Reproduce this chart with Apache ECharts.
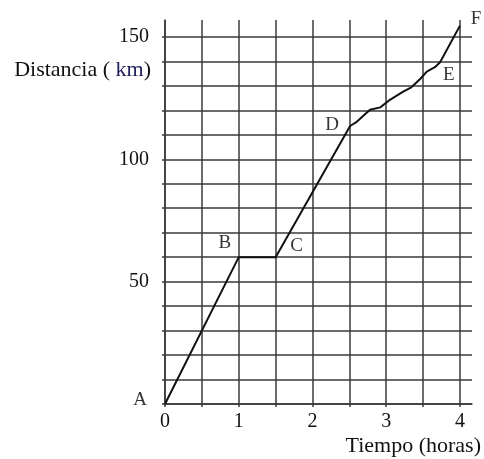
<!DOCTYPE html>
<html>
<head>
<meta charset="utf-8">
<title>Distancia - Tiempo</title>
<script src="https://cdn.jsdelivr.net/npm/echarts@6/dist/echarts.min.js"></script>
<style>
  html, body { margin: 0; padding: 0; background: #fff; }
  #chart { width: 484px; height: 459px; }
</style>
</head>
<body>
<div id="chart"></div>
<script>
  // recorrido (horas, km)
  var timeHours = [0, 1, 1.5, 2.51, 2.6, 2.78, 2.92, 3.05, 3.23, 3.34, 3.46, 3.55, 3.66, 3.73, 4.0]
  var distanceKm = [0, 60, 60, 113.6, 115.3, 120.2, 121.2, 124.3, 127.6, 129.4, 132.8, 135.8, 137.6, 139.6, 154.6]

  // puntos con letra
  var pointNames = ['A', 'B', 'C', 'D', 'E', 'F']
  var pointTimes = [0, 1, 1.5, 2.51, 3.66, 4.0]
  var pointDists = [0, 60, 60, 113.6, 137.6, 154.6]

  var xTickLabels = [0, 1, 2, 3, 4]
  var yTickLabels = [0, 50, 100, 150]

  // desplazamiento de cada letra respecto a su punto (px)
  var letterOffset = {
    A: [-25, -4],
    B: [-14, -14],
    C: [21, -11],
    D: [-18, -1],
    E: [14, 8],
    F: [16, -7]
  }

  var serif = '"Liberation Serif", "DejaVu Serif", serif'
  var ink = '#111'
  var gridLine = { color: '#3a3a3a', width: 1.5 }

  var lineData = timeHours.map(function (t, i) { return [t, distanceKm[i]] })
  var letterData = pointNames.map(function (n, i) {
    return {
      name: n,
      value: [pointTimes[i], pointDists[i]],
      label: { offset: letterOffset[n] }
    }
  })

  var chart = echarts.init(document.getElementById('chart'))
  chart.setOption({
    animation: false,
    grid: { left: 165, top: 20, right: 12, bottom: 55, containLabel: false },
    xAxis: {
      type: 'value',
      min: 0,
      max: 4.163,
      interval: 0.5,
      axisLine: { show: true, lineStyle: gridLine },
      axisTick: { show: true, length: 3, lineStyle: gridLine },
      splitLine: { show: true, showMaxLine: false, lineStyle: gridLine },
      axisLabel: {
        margin: 8,
        color: ink,
        fontFamily: serif,
        fontSize: 20,
        showMaxLabel: false,
        formatter: function (v) {
          return xTickLabels.indexOf(v) > -1 ? String(v) : ''
        }
      }
    },
    yAxis: {
      type: 'value',
      min: 0,
      max: 156.9,
      interval: 10,
      axisLine: { show: true, lineStyle: gridLine },
      axisTick: { show: true, length: 3, lineStyle: gridLine },
      splitLine: { show: true, showMaxLine: false, lineStyle: gridLine },
      axisLabel: {
        margin: 16,
        color: ink,
        fontFamily: serif,
        fontSize: 20,
        showMaxLabel: false,
        formatter: function (v) {
          return v > 0 && yTickLabels.indexOf(v) > -1 ? String(v) : ''
        }
      }
    },
    graphic: [
      {
        type: 'text',
        right: 484 - 151,
        top: 59,
        style: {
          text: '{a|Distancia ( }{k|km}{a|)}',
          rich: {
            a: { fontFamily: serif, fontSize: 22, fill: ink },
            k: { fontFamily: serif, fontSize: 22, fill: '#1e1e5a' }
          }
        }
      },
      {
        type: 'text',
        right: 3,
        top: 435,
        style: { text: 'Tiempo (horas)', fontFamily: serif, fontSize: 22, fill: ink }
      }
    ],
    series: [
      {
        type: 'line',
        data: lineData,
        symbol: 'none',
        lineStyle: { color: '#111', width: 2 },
        z: 3
      },
      {
        type: 'scatter',
        data: letterData,
        symbolSize: 0,
        silent: true,
        label: {
          show: true,
          position: 'inside',
          formatter: '{b}',
          color: '#000',
          fontFamily: serif,
          fontSize: 19
        },
        z: 4
      }
    ]
  })
</script>
</body>
</html>
